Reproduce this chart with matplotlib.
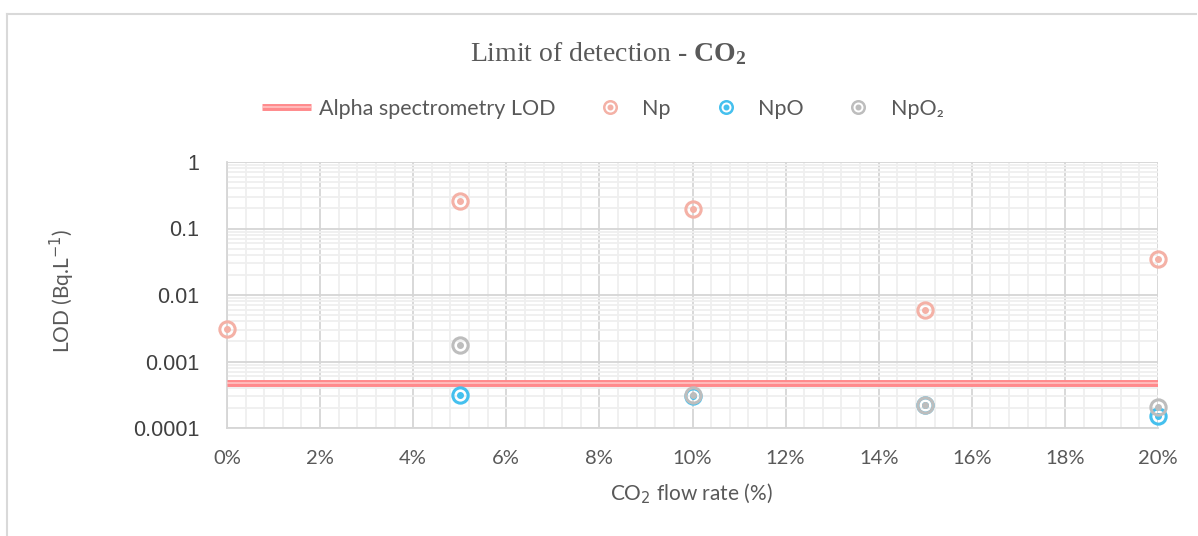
import matplotlib
matplotlib.use("Agg")
import matplotlib.pyplot as plt
from matplotlib.lines import Line2D
from matplotlib.legend_handler import HandlerTuple
from matplotlib.ticker import MultipleLocator, LogLocator, NullFormatter, FixedLocator, FixedFormatter

plt.rcParams['mathtext.fontset'] = 'custom'
plt.rcParams['mathtext.rm'] = 'Liberation Serif'
plt.rcParams['mathtext.bf'] = 'Liberation Serif:bold'

# Data
np_x = [0, 5, 10, 15, 20]
np_lod = [0.0031, 0.26, 0.196, 0.0059, 0.035]
npo_x = [5, 10, 15, 20]
npo_lod = [0.00031, 0.00030, 0.000223, 0.000152]
npo2_x = [5, 10, 15, 20]
npo2_lod = [0.0018, 0.00031, 0.000222, 0.00021]
alpha_lod = 0.00048
x_ticks = [0, 2, 4, 6, 8, 10, 12, 14, 16, 18, 20]
x_tick_labels = [f"{v}%" for v in x_ticks]
y_ticks = [0.0001, 0.001, 0.01, 0.1, 1]
y_tick_labels = ["0.0001", "0.001", "0.01", "0.1", "1"]
legend_labels = ['Alpha spectrometry LOD', 'Np', 'NpO', 'NpO₂']

C_NP = '#F4B1A6'
C_NPO = '#45C0EE'
C_NPO2 = '#BDBDBD'
C_LINE = '#FF8A8C'
TXT = '#595959'
SANS = ['Lato', 'DejaVu Sans']
W, H = 1198, 536

fig = plt.figure(figsize=(W/100, H/100), dpi=100)
ax = fig.add_axes([227/W, 1-428/H, (1158-227)/W, (428-162)/H])

ax.set_yscale('log')
ax.set_ylim(0.0001, 1)
ax.set_xlim(0, 20)

# grid
ax.xaxis.set_major_locator(FixedLocator(x_ticks))
ax.xaxis.set_major_formatter(FixedFormatter(x_tick_labels))
ax.xaxis.set_minor_locator(MultipleLocator(0.4))
ax.yaxis.set_major_locator(FixedLocator(y_ticks))
ax.yaxis.set_major_formatter(FixedFormatter(y_tick_labels))
ax.yaxis.set_minor_locator(LogLocator(base=10, subs=range(2, 10)))
ax.yaxis.set_minor_formatter(NullFormatter())
ax.grid(which='minor', color='#EFEFEF', lw=1.3, zorder=0)
ax.grid(which='major', color='#D6D6D6', lw=1.3, zorder=0.5)
ax.set_axisbelow(True)
ax.tick_params(which='both', length=0)
ax.tick_params(axis='x', labelsize=14.5, labelcolor=TXT, pad=16)
ax.tick_params(axis='y', labelsize=15.5, labelcolor='#404040', pad=20)
for lab in ax.get_xticklabels():
    lab.set_family(SANS)
for lab in ax.get_yticklabels():
    lab.set_family(['Liberation Sans', 'DejaVu Sans'])
for s in ['top', 'right']:
    ax.spines[s].set_visible(False)
for s in ['left', 'bottom']:
    ax.spines[s].set_color('#D6D6D6')
    ax.spines[s].set_linewidth(1.3)

# alpha LOD double line
l1 = ax.axhline(alpha_lod, color=C_LINE, lw=5, zorder=3, solid_capstyle='butt')
l2 = ax.axhline(alpha_lod, color='#FFC9C9', lw=1.1, zorder=3.1, solid_capstyle='butt')

def series(x, y, c, z):
    ax.plot(x, y, ls='none', marker='o', ms=11, mfc='none', mec=c, mew=2.2, zorder=z, clip_on=False)
    ax.plot(x, y, ls='none', marker='o', ms=4, mfc=c, mec=c, zorder=z, clip_on=False)
    a = Line2D([], [], ls='none', marker='o', ms=9, mfc='none', mec=c, mew=1.8)
    b = Line2D([], [], ls='none', marker='o', ms=3.3, mfc=c, mec=c)
    return (a, b)

h_np = series(np_x, np_lod, C_NP, 4)
h_npo = series(npo_x, npo_lod, C_NPO, 5)
h_npo2 = series(npo2_x, npo2_lod, C_NPO2, 6)

# axis titles
xl = fig.text(691/W, 1-482/H, 'CO$_2$ flow rate (%)', ha='center', va='top',
              fontsize=15, color=TXT, family=SANS)
yl = fig.text(62/W, 1-291/H, 'LOD (Bq.L$^{-1}$)', ha='center', va='center', rotation=90,
              fontsize=15, color=TXT, family=SANS)
xl.set_math_fontfamily('dejavusans')
yl.set_math_fontfamily('dejavusans')

fig.text(0.508, 1-54/H, r'Limit of detection - $\mathbf{CO_2}$', ha='center', va='center',
         fontsize=20, color=TXT, family='Liberation Serif')

leg = fig.legend([(l1, l2), h_np, h_npo, h_npo2], legend_labels,
                 handler_map={tuple: HandlerTuple(ndivide=1, pad=0)},
                 loc='center', bbox_to_anchor=(0.503, 1-109/H), ncol=4, frameon=False,
                 handlelength=2.3, columnspacing=1.4, handletextpad=0.35,
                 prop={'family': SANS, 'size': 15.5})
for t in leg.get_texts():
    t.set_color(TXT)

# chart border (left & top)
fig.add_artist(Line2D([7/W, 7/W], [0, 1-14/H], transform=fig.transFigure, color='#D9D9D9', lw=1.5))
fig.add_artist(Line2D([7/W, 1196/W], [1-14/H, 1-14/H], transform=fig.transFigure, color='#D9D9D9', lw=1.5))

fig.savefig('out.png', dpi=100)
